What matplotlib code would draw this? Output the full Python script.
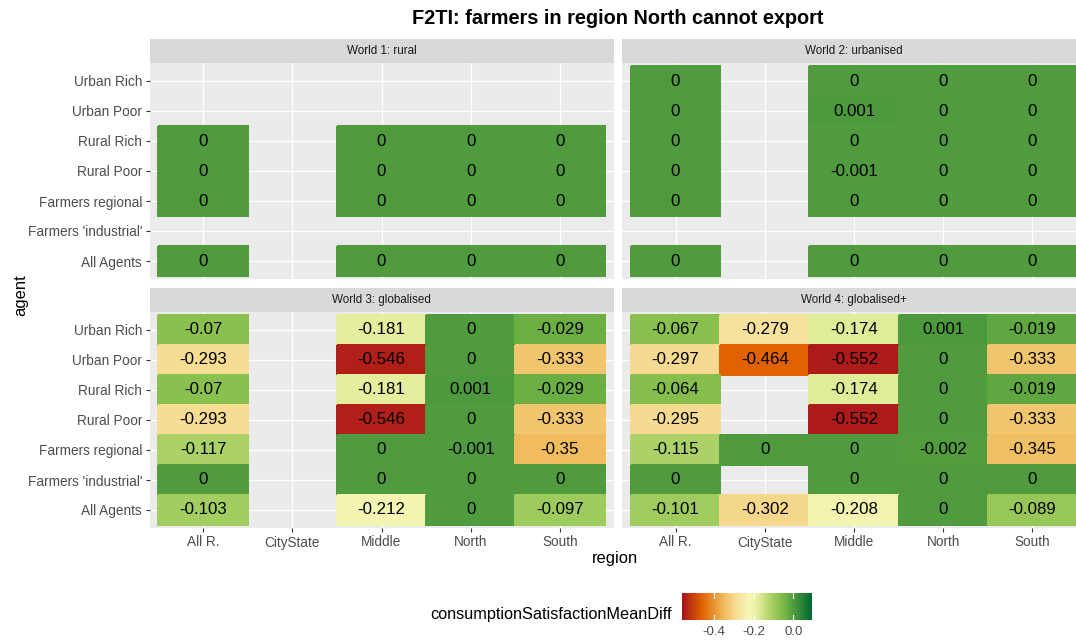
import numpy as np
import matplotlib
matplotlib.use("Agg")
import matplotlib.pyplot as plt
from matplotlib.colors import LinearSegmentedColormap, Normalize
from matplotlib.cm import ScalarMappable

plt.rcParams['font.family'] = ['Liberation Sans', 'DejaVu Sans']
plt.rcParams['axes.unicode_minus'] = False

title = "F2TI: farmers in region North cannot export"
regions = ["All R.", "CityState", "Middle", "North", "South"]
agents = ["Urban Rich", "Urban Poor", "Rural Rich", "Rural Poor",
          "Farmers regional", "Farmers 'industrial'", "All Agents"]
worlds = ["World 1: rural", "World 2: urbanised", "World 3: globalised", "World 4: globalised+"]
nan = np.nan

# rows = agents (top to bottom), cols = regions
world1 = [
    [nan, nan, nan, nan, nan],
    [nan, nan, nan, nan, nan],
    [0, nan, 0, 0, 0],
    [0, nan, 0, 0, 0],
    [0, nan, 0, 0, 0],
    [nan, nan, nan, nan, nan],
    [0, nan, 0, 0, 0],
]
world2 = [
    [0, nan, 0, 0, 0],
    [0, nan, 0.001, 0, 0],
    [0, nan, 0, 0, 0],
    [0, nan, -0.001, 0, 0],
    [0, nan, 0, 0, 0],
    [nan, nan, nan, nan, nan],
    [0, nan, 0, 0, 0],
]
world3 = [
    [-0.07, nan, -0.181, 0, -0.029],
    [-0.293, nan, -0.546, 0, -0.333],
    [-0.07, nan, -0.181, 0.001, -0.029],
    [-0.293, nan, -0.546, 0, -0.333],
    [-0.117, nan, 0, -0.001, -0.35],
    [0, nan, 0, 0, 0],
    [-0.103, nan, -0.212, 0, -0.097],
]
world4 = [
    [-0.067, -0.279, -0.174, 0.001, -0.019],
    [-0.297, -0.464, -0.552, 0, -0.333],
    [-0.064, nan, -0.174, 0, -0.019],
    [-0.295, nan, -0.552, 0, -0.333],
    [-0.115, 0, 0, -0.002, -0.345],
    [0, nan, 0, 0, 0],
    [-0.101, -0.302, -0.208, 0, -0.089],
]
world_data = [world1, world2, world3, world4]

legend_title = "consumptionSatisfactionMeanDiff"
cbar_ticks = [-0.4, -0.2, 0.0]
cbar_ticklabels = ["-0.4", "-0.2", "0.0"]
vmin, vmax = -0.562, 0.096

# colour gradient anchors (value, colour)
anchor_vals = [-0.562, -0.464, -0.35, -0.29, -0.22, -0.18, -0.117, -0.07, -0.029, 0.0, 0.096]
anchor_cols = ["#A8141C", "#E06200", "#F0BC5E", "#F7DE97", "#F7F8BA", "#E4EE9C",
               "#ACD268", "#8BC04E", "#6BAF44", "#509B3D", "#006830"]
pos = [(v - vmin) / (vmax - vmin) for v in anchor_vals]
cmap = LinearSegmentedColormap.from_list("rdylgn_custom", list(zip(pos, anchor_cols)))
norm = Normalize(vmin=vmin, vmax=vmax)

W, H = 1076, 640
fig = plt.figure(figsize=(W / 100, H / 100), dpi=100)


def fx(px):
    return px / W


def fy(py):
    return 1 - py / H


panel_w = 464
panel_h = 216
lefts = [149.5, 622]
tops = [63, 312]
strip_h = 24

for k, (wname, data) in enumerate(zip(worlds, world_data)):
    r, c = divmod(k, 2)
    left = lefts[c]
    top = tops[r]
    ax = fig.add_axes([fx(left), fy(top + panel_h), fx(panel_w), panel_h / H])
    ax.set_facecolor("#EBEBEB")
    arr = np.array(data, dtype=float)
    ax.set_xlim(0.4, 5.6)
    ax.set_ylim(7.6, 0.4)
    ax.set_xticks(range(1, 6))
    ax.set_yticks(range(1, 8))
    ax.grid(True, color="white", linewidth=1.0, zorder=0)
    ax.set_axisbelow(True)
    masked = np.ma.masked_invalid(arr)
    xe = np.arange(0.5, 6.0, 1.0)
    ye = np.arange(0.5, 8.0, 1.0)
    ax.pcolormesh(xe, ye, masked, cmap=cmap, norm=norm, zorder=1,
                  edgecolor="face", linewidth=0.3, antialiased=False)
    for i in range(arr.shape[0]):
        for j in range(arr.shape[1]):
            v = arr[i, j]
            if np.isnan(v):
                continue
            txt = "0" if v == 0 else f"{v:g}"
            ax.text(j + 1, i + 1, txt, ha="center", va="center",
                    fontsize=12.2, color="black", zorder=3)
    for s in ax.spines.values():
        s.set_visible(False)
    ax.tick_params(length=2.9, width=0.8, color="#333333", labelcolor="#4D4D4D",
                   labelsize=9.8, pad=2.5)
    if c == 0:
        ax.set_yticklabels(agents)
    else:
        ax.tick_params(axis="y", left=False, labelleft=False)
    if r == 1:
        ax.set_xticklabels(regions)
    else:
        ax.tick_params(axis="x", bottom=False, labelbottom=False)

    sax = fig.add_axes([fx(left), fy(top), fx(panel_w), strip_h / H])
    sax.set_facecolor("#D9D9D9")
    sax.set_xticks([])
    sax.set_yticks([])
    for s in sax.spines.values():
        s.set_visible(False)
    sax.text(0.5, 0.5, wname, ha="center", va="center", fontsize=8.4,
             color="#1A1A1A", transform=sax.transAxes)

fig.text(fx(618), fy(18.5), title, ha="center", va="center", fontsize=14.3,
         fontweight="bold", color="black")
fig.text(fx(21), fy(295.5), "agent", ha="center", va="center", rotation=90,
         fontsize=11.9, color="black")
fig.text(fx(615), fy(559), "region", ha="center", va="center",
         fontsize=11.9, color="black")

# legend
fig.text(fx(551), fy(615), legend_title, ha="center", va="center",
         fontsize=11.7, color="black")
cax = fig.add_axes([fx(682.3), fy(620), fx(130), 27 / H])
cb = fig.colorbar(ScalarMappable(norm=norm, cmap=cmap), cax=cax,
                  orientation="horizontal")
cb.outline.set_visible(False)
cb.set_ticks(cbar_ticks)
cb.set_ticklabels([])
cax.tick_params(axis="x", bottom=False, top=False)
for t, lab in zip(cbar_ticks, cbar_ticklabels):
    cax.plot([t, t], [0, 0.2], color="white", linewidth=0.8)
    cax.plot([t, t], [0.8, 1.0], color="white", linewidth=0.8)
    fig.text(fx(682.3) + (t - vmin) / (vmax - vmin) * fx(130), fy(632), lab,
             ha="center", va="center", fontsize=9.5, color="#4D4D4D")
cax.set_ylim(0, 1)

fig.savefig("out.png", dpi=100)
